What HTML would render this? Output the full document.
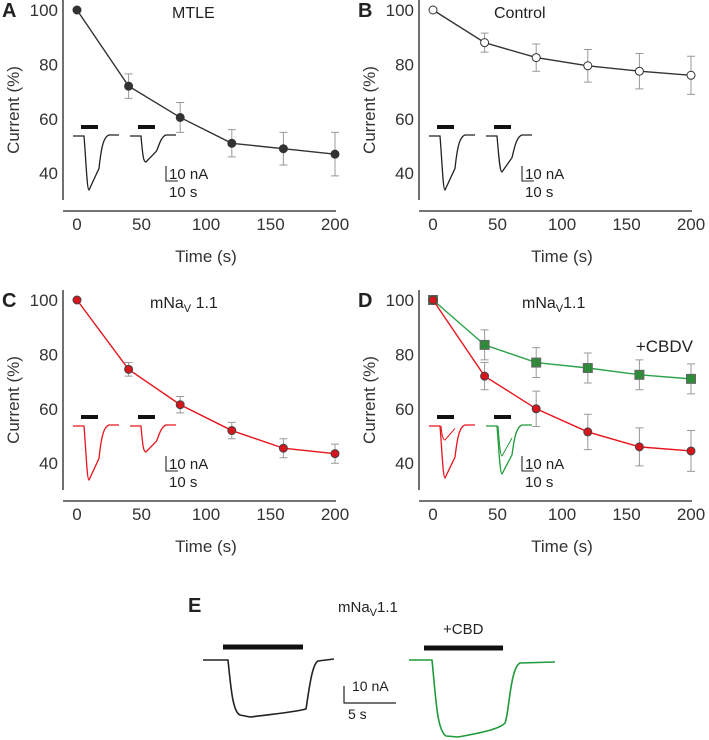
<!DOCTYPE html>
<html><head><meta charset="utf-8"><style>
body{margin:0;background:#fff;}
svg{display:block;font-family:"Liberation Sans",Arial,sans-serif;}
</style></head><body>
<svg id="fig" width="709" height="740" viewBox="0 0 709 740">
<g id="root"></g>
<g fill="none" stroke-linejoin="round">
<text x="188" y="612" font-size="20" font-weight="bold" fill="#222" stroke="none">E</text>
<text x="338" y="612" font-size="15" fill="#222" stroke="none">mNa<tspan font-size="11" dy="4">V</tspan><tspan dy="-4">1.1</tspan></text>
<text x="443" y="634" font-size="15" fill="#222" stroke="none">+CBD</text>
<line x1="223" y1="647" x2="303" y2="647" stroke="#111" stroke-width="5"/>
<line x1="424" y1="648" x2="503" y2="648" stroke="#111" stroke-width="5"/>
<path d="M203,660 L228,660 C231,690 233,712 240,715 L250,717 C275,714 295,712 306,709 C309,690 312,664 318,661 L334,659" stroke="#222" stroke-width="1.6"/>
<path d="M409,660 L432,660 C436,700 437,730 446,736 L458,737 C480,733 500,729 505,723 C509,715 510,668 520,663 L555,662" stroke="#1f9a3a" stroke-width="1.6"/>
<path d="M344,686 L344,703 L396,703" stroke="#222" stroke-width="1.2"/>
<text x="352" y="691" font-size="14" fill="#222" stroke="none">10 nA</text>
<text x="348" y="719" font-size="14" fill="#222" stroke="none">5 s</text>
</g>
</svg>
<script>
const times=[0,40,80,120,160,200];
const xTicks=[0,50,100,150,200];
const yTicks=[40,60,80,100];
const aVals=[100,72,60.5,51,49,47];
const aErr=[0,4.5,5.5,5,6,8];
const bVals=[100,88,82.5,79.5,77.5,76];
const bErr=[0,3.5,5,6,6.5,7];
const cVals=[100,74.5,61.5,52,45.5,43.5];
const cErr=[0,2.5,3,3,3.5,3.5];
const dRedVals=[100,72,60,51.5,46,44.5];
const dRedErr=[0,5,6.5,6.5,7,7.5];
const dGreenVals=[100,83.5,77,75,72.5,71];
const dGreenErr=[0,5.5,5.5,5.5,5.5,5.5];

const NS="http://www.w3.org/2000/svg";
const root=document.getElementById('root');
function mk(tag,attrs,parent,text){const e=document.createElementNS(NS,tag);for(const k in attrs)e.setAttribute(k,attrs[k]);if(text!==undefined)e.textContent=text;(parent||root).appendChild(e);return e;}

function panel(ox,oy,label,name,titleHtml,series,insetColors){
  const g=mk('g',{});
  
  
  const xs=t=>ox+77+t*1.29;
  const ys=v=>oy+10+(100-v)*2.72;
  const l=mk('text',{x:ox+2,y:oy+17,'font-size':20,'font-weight':'bold',fill:'#222'},g,label);
  
  
  const ya=mk('line',{x1:ox+63,y1:oy,x2:ox+63,y2:oy+200,stroke:'#222','stroke-width':1.3},g);
  
  
  const xa=mk('line',{x1:ox+63,y1:oy+211,x2:ox+336,y2:oy+211,stroke:'#222','stroke-width':1.3},g);
  
  
  yTicks.forEach(v=>{const t=mk('text',{x:ox+58,y:ys(v)+6,'font-size':17,fill:'#333','text-anchor':'end'},g,String(v));
    
    });
  xTicks.forEach(v=>{const t=mk('text',{x:xs(v),y:oy+230,'font-size':17,fill:'#333','text-anchor':'middle'},g,String(v));
    
    });
  const yt=mk('text',{x:ox+19,y:oy+110,'font-size':17,fill:'#333','text-anchor':'middle',transform:`rotate(-90 ${ox+19} ${oy+110})`},g,'Current (%)');
  
  
  const xt=mk('text',{x:xs(100),y:oy+262,'font-size':17,fill:'#333','text-anchor':'middle'},g,'Time (s)');
  
  
  const tt=mk('text',{x:ox+titleHtml.x,y:oy+18,'font-size':16,fill:'#222'},g);
  tt.innerHTML=titleHtml.h;
  
  
  insetColors.forEach((c,i)=>{
    const bx=ox+81+i*57, by=oy+127;
    const b=mk('line',{x1:bx,y1:by,x2:bx+17,y2:by,stroke:'#111','stroke-width':4},g);
    
    
    const depth=c.depth, x0=ox+73+i*57;
    const p=mk('path',{d:`M${x0},${oy+136} L${x0+11},${oy+136} C${x0+13},${oy+160} ${x0+14},${oy+136+depth} ${x0+16},${oy+136+depth} L${x0+26},${oy+136+depth*0.6} C${x0+28},${oy+150} ${x0+30},${oy+137} ${x0+36},${oy+135} L${x0+46},${oy+135}`,fill:'none',stroke:c.col,'stroke-width':1.3},g);
    
    
    if(c.depth2){const p2=mk('path',{d:`M${x0+12},${oy+136} C${x0+13},${oy+146} ${x0+14},${oy+136+c.depth2} ${x0+16},${oy+136+c.depth2} L${x0+26},${oy+130+c.depth2*0.6}`,fill:'none',stroke:c.col,'stroke-width':1},g);
      
      }
  });
  const sb=mk('path',{d:`M${ox+166},${oy+166} L${ox+166},${oy+181} L${ox+178},${oy+181}`,fill:'none',stroke:'#222','stroke-width':1.1},g);
  
  
  const s1=mk('text',{x:ox+169,y:oy+179,'font-size':15,fill:'#222'},g,'10 nA');
  
  
  const s2=mk('text',{x:ox+169,y:oy+197,'font-size':15,fill:'#222'},g,'10 s');
  
  
  series.forEach(s=>{
    s.err.forEach((e,i)=>{ if(!e)return;
      const x=xs(times[i]);
      const eb=mk('path',{d:`M${x},${ys(s.vals[i]+e)} L${x},${ys(s.vals[i]-e)} M${x-4},${ys(s.vals[i]+e)} L${x+4},${ys(s.vals[i]+e)} M${x-4},${ys(s.vals[i]-e)} L${x+4},${ys(s.vals[i]-e)}`,stroke:'#999','stroke-width':1,fill:'none'},g);
      
      });
    const ln=mk('polyline',{points:s.vals.map((v,i)=>xs(times[i])+','+ys(v)).join(' '),fill:'none',stroke:s.line,'stroke-width':1.4},g);
    
    
    s.vals.forEach((v,i)=>{
      let m;
      if(s.shape==='sq') m=mk('rect',{x:xs(times[i])-4.5,y:ys(v)-4.5,width:9,height:9,fill:s.fill,stroke:'#666','stroke-width':1},g);
      else m=mk('circle',{cx:xs(times[i]),cy:ys(v),r:4,fill:s.fill,stroke:s.stroke,'stroke-width':1},g);
      
      
    });
  });
}
panel(0,0,'A','a',{x:172,h:'MTLE'},[{vals:aVals,err:aErr,line:'#333',fill:'#333',stroke:'#333'}],[{col:'#222',depth:54},{col:'#222',depth:26}]);
panel(356,0,'B','b',{x:138,h:'Control'},[{vals:bVals,err:bErr,line:'#333',fill:'#fff',stroke:'#333'}],[{col:'#222',depth:54},{col:'#222',depth:36}]);
panel(0,290,'C','c',{x:150,h:'mNa<tspan font-size="11" dy="4">V</tspan><tspan dy="-4"> 1.1</tspan>'},[{vals:cVals,err:cErr,line:'#e8141c',fill:'#d8141c',stroke:'#444'}],[{col:'#e8141c',depth:54},{col:'#e8141c',depth:26}]);
panel(356,290,'D','d',{x:166,h:'mNa<tspan font-size="11" dy="4">V</tspan><tspan dy="-4">1.1</tspan>'},[{vals:dGreenVals,err:dGreenErr,line:'#2aa34a',fill:'#2f8a3a',shape:'sq'},{vals:dRedVals,err:dRedErr,line:'#e8141c',fill:'#d8141c',stroke:'#444'}],[{col:'#e8141c',depth:52,depth2:14},{col:'#1f9a3a',depth:48,depth2:30}]);
const cb=mk('text',{x:693,y:352,'font-size':17,fill:'#222','text-anchor':'end'},root,'+CBDV');


</script>
</body></html>
